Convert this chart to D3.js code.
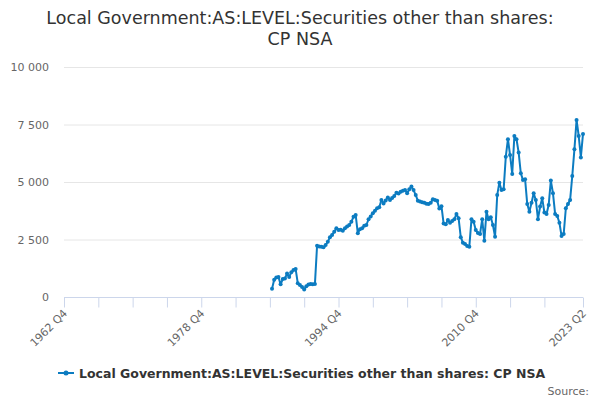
<!DOCTYPE html>
<html>
<head>
<meta charset="utf-8">
<script src="https://cdn.jsdelivr.net/npm/d3@7"></script>
<style>
  body { margin: 0; background: #fff; }
  svg { font-family: "DejaVu Sans", sans-serif; }
</style>
</head>
<body>
<div id="chart"></div>
<script>
// quarterly series, first point 1987 Q1, last 2023 Q2
const startYear = 1987, startQuarter = 1;
const values = [
  360, 750, 850, 870, 550, 780, 800, 1020, 870, 1080,
  1170, 1220, 600, 520, 440, 330, 470, 540, 560, 550,
  560, 2230, 2200, 2190, 2160, 2260, 2400, 2600, 2700, 2840,
  2990, 2910, 2920, 2880, 2990, 3060, 3130, 3270, 3490, 3570,
  2770, 2950, 2990, 3100, 3130, 3380, 3500, 3640, 3750, 3860,
  3900, 4220, 4070, 4200, 4330, 4220, 4300, 4390, 4530, 4500,
  4580, 4620, 4650, 4510, 4680, 4800, 4650, 4430, 4190, 4150,
  4120, 4100, 4050, 4040, 4100, 4250, 4220, 4190, 3850, 3950,
  3200, 3160, 3350, 3230, 3300, 3380, 3610, 3420, 2600, 2360,
  2300, 2220, 2190, 3380, 3270, 2910, 2780, 2740, 3380, 2450,
  3710, 3380, 3470, 3130, 2620, 4430, 4970, 4650, 4680, 6100,
  6860, 6170, 5350, 7000, 6860, 6280, 5380, 5090, 5120, 4040,
  3710, 4100, 4510, 4220, 3380, 3930, 4290, 3670, 3610, 4000,
  5060, 4510, 3610, 3520, 3230, 2650, 2740, 3860, 4040, 4220,
  5260, 6420, 7700, 7000, 6070, 7090
];
const yTicks = [0, 2500, 5000, 7500, 10000];
const labelTicks = ["1962 Q4", "1978 Q4", "1994 Q4", "2010 Q4", "2023 Q2"];
const title = ["Local Government:AS:LEVEL:Securities other than shares:", "CP NSA"];
const seriesName = "Local Government:AS:LEVEL:Securities other than shares: CP NSA";

const width = 600, height = 400;
const margin = {top: 67, right: 17, bottom: 103, left: 64};
const color = "#0c7cc1";

// time as fractional years; "YYYY Qn" -> year + (n-1)/4
const qTime = s => { let p = s.split(" Q"); return +p[0] + (+p[1] - 1) / 4; };
let data = values.map((v, i) => ({t: startYear + (startQuarter - 1 + i) / 4, v: v}));

let svg = d3.select("#chart").append("svg")
    .attr("width", width)
    .attr("height", height);

let x = d3.scaleLinear()
    .domain([qTime(labelTicks[0]), qTime(labelTicks[labelTicks.length - 1])])
    .range([margin.left, width - margin.right]);
let y = d3.scaleLinear()
    .domain([0, 10000])
    .range([height - margin.bottom, margin.top]);

// title
svg.append("text")
    .attr("x", width / 2)
    .attr("y", 24)
    .attr("text-anchor", "middle")
    .style("font-size", "17.5px")
    .style("fill", "#333")
    .selectAll("tspan")
    .data(title).enter()
    .append("tspan")
    .attr("x", width / 2)
    .attr("dy", (d, i) => i == 0 ? 0 : 21)
    .text(d => d);

// grid + y labels
let fmt = d => d3.format(",")(d).replace(/,/g, " ");
svg.append("g")
    .selectAll("line")
    .data(yTicks.slice(1)).enter()
    .append("line")
    .attr("x1", margin.left)
    .attr("x2", width - margin.right)
    .attr("y1", d => y(d) + 0.5)
    .attr("y2", d => y(d) + 0.5)
    .style("stroke", "#e6e6e6");

svg.append("g")
    .selectAll("text")
    .data(yTicks).enter()
    .append("text")
    .attr("x", margin.left - 15)
    .attr("y", d => y(d) + 4)
    .attr("text-anchor", "end")
    .style("font-size", "11px")
    .style("fill", "#666")
    .text(fmt);

// x axis: tick every 4 years, label every 16, plus the end point
let t0 = qTime(labelTicks[0]), t1 = qTime(labelTicks[labelTicks.length - 1]);
let tickVals = d3.range(t0, t1 - 1, 4).concat([t1]);
let xAxis = d3.axisBottom(x)
    .tickValues(tickVals)
    .tickSize(10)
    .tickFormat("");
let gx = svg.append("g")
    .attr("transform", "translate(0," + (y(0) + 0.5) + ")")
    .call(xAxis);
gx.select(".domain").attr("stroke", "#ccd6eb").attr("d", "M" + margin.left + ",0H" + (width - margin.right));
gx.selectAll(".tick line").attr("stroke", "#ccd6eb");

svg.append("g")
    .selectAll("text")
    .data(labelTicks).enter()
    .append("text")
    .attr("transform", d => "translate(" + (x(qTime(d)) + 4) + "," + (y(0) + 17) + ") rotate(-45)")
    .attr("text-anchor", "end")
    .style("font-size", "11px")
    .style("fill", "#666")
    .text(d => d);

// series
let line = d3.line()
    .x(d => x(d.t))
    .y(d => y(d.v));

svg.append("path")
    .datum(data)
    .attr("d", line)
    .style("fill", "none")
    .style("stroke", color)
    .style("stroke-width", 2)
    .style("stroke-linejoin", "round");

svg.append("g")
    .selectAll("circle")
    .data(data).enter()
    .append("circle")
    .attr("cx", d => x(d.t))
    .attr("cy", d => y(d.v))
    .attr("r", 2)
    .style("fill", color);

// legend
let legend = svg.append("g").attr("transform", "translate(0,373)");
legend.append("line")
    .attr("x1", 58).attr("x2", 74)
    .attr("y1", 0).attr("y2", 0)
    .style("stroke", color)
    .style("stroke-width", 2);
legend.append("circle")
    .attr("cx", 66).attr("cy", 0).attr("r", 2.5)
    .style("fill", color);
legend.append("text")
    .attr("x", 79)
    .attr("y", 5)
    .style("font-size", "12.5px")
    .style("font-weight", "bold")
    .style("fill", "#333")
    .text(seriesName);

svg.append("text")
    .attr("x", 589)
    .attr("y", 395)
    .attr("text-anchor", "end")
    .style("font-size", "11px")
    .style("fill", "#666")
    .text("Source:");
</script>
</body>
</html>
